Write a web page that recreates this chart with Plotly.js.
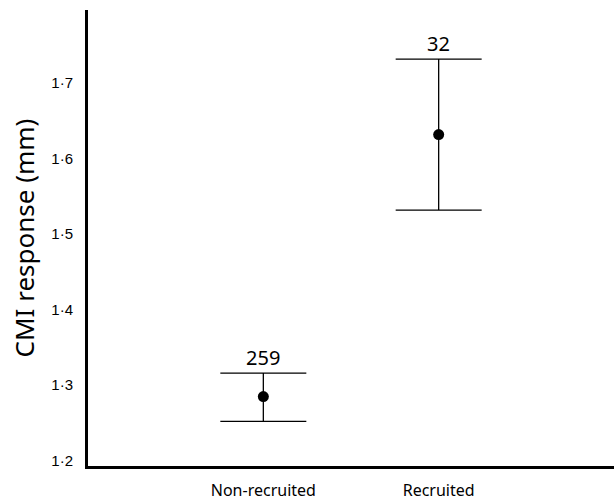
<!DOCTYPE html>
<html>
<head>
<meta charset="utf-8">
<script src="https://cdn.plot.ly/plotly-3.0.1.min.js"></script>
<style>html,body{margin:0;padding:0;background:#fff;}#chart{width:614px;height:503px;}</style>
</head>
<body>
<div id="chart"></div>
<script>
const categories = ["Non-recruited", "Recruited"];
const means = [1.285, 1.632];
const upper = [1.316, 1.732];
const lower = [1.252, 1.532];
const counts = ["259", "32"];
const tickVals = [1.2, 1.3, 1.4, 1.5, 1.6, 1.7];
const tickText = ["1·2", "1·3", "1·4", "1·5", "1·6", "1·7"];

const xpos = categories.map((c, i) => i + 1);

const trace = {
  type: "scatter",
  mode: "markers",
  x: xpos,
  y: means,
  marker: {color: "#000", size: 11},
  error_y: {
    type: "data",
    symmetric: false,
    array: upper.map((u, i) => u - means[i]),
    arrayminus: means.map((m, i) => m - lower[i]),
    color: "#000",
    thickness: 1.3,
    width: 43
  },
  hoverinfo: "none",
  showlegend: false
};

const annotations = categories.map((c, i) => ({
  x: xpos[i], y: upper[i], xref: "x", yref: "y",
  text: counts[i], showarrow: false, yanchor: "bottom", yshift: 0,
  font: {family: "Noto Sans, sans-serif", size: 20, color: "#000"}
}));

const layout = {
  width: 614, height: 503,
  margin: {l: 88, r: 0, t: 10, b: 37},
  paper_bgcolor: "#fff", plot_bgcolor: "#fff",
  showlegend: false,
  xaxis: {
    range: [0, 3],
    tickvals: xpos,
    ticktext: categories,
    showgrid: false, zeroline: false,
    showline: true, linecolor: "#000", linewidth: 2.5,
    ticks: "outside", ticklen: 8, tickcolor: "rgba(0,0,0,0)",
    tickfont: {family: "Noto Sans, sans-serif", size: 16, color: "#000"},
    fixedrange: true
  },
  yaxis: {
    range: [1.193, 1.797],
    tickvals: tickVals,
    ticktext: tickText,
    showgrid: false, zeroline: false,
    showline: true, linecolor: "#000", linewidth: 3,
    ticks: "outside", ticklen: 9, tickcolor: "rgba(0,0,0,0)",
    tickfont: {family: "Liberation Sans, Arial, sans-serif", size: 15, color: "#000"},
    title: {text: "CMI response (mm)", standoff: 10,
      font: {family: "Noto Sans, sans-serif", size: 26, color: "#000"}},
    automargin: false,
    fixedrange: true
  },
  annotations: annotations
};

Plotly.newPlot("chart", [trace], layout, {displayModeBar: false, staticPlot: true});
</script>
</body>
</html>
